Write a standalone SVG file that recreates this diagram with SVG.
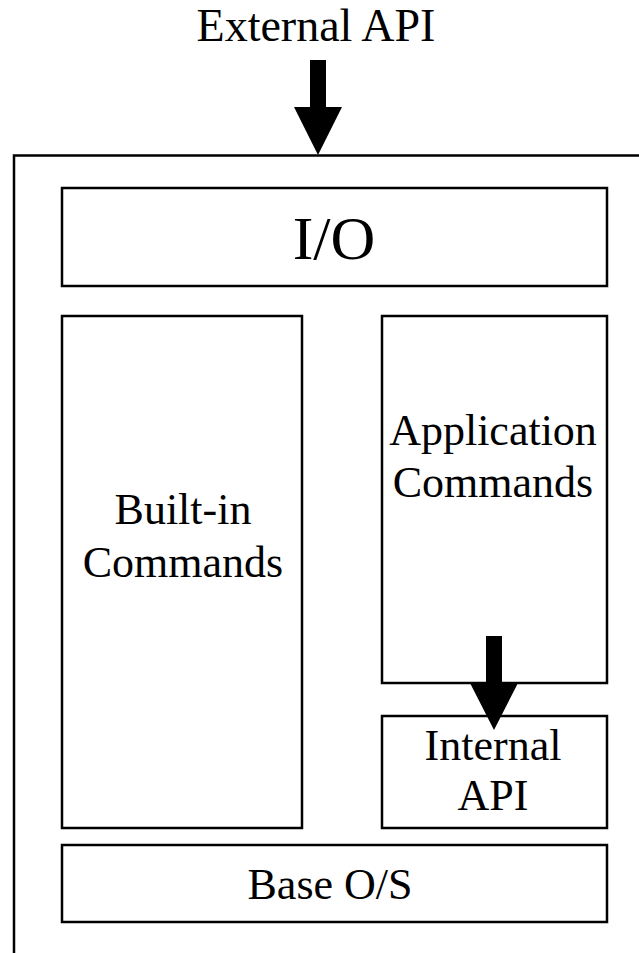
<svg xmlns="http://www.w3.org/2000/svg" width="639" height="953" viewBox="0 0 639 953">
<style>
.box{fill:#fff;stroke:#000;stroke-width:2.5}
.t{font-family:"Liberation Serif","Times New Roman",serif;fill:#000;text-anchor:middle;font-size:44px}
.arrow{fill:#000;stroke:none}
</style>
<rect width="639" height="953" fill="#fff"/>
<g id="frame">
<path d="M14 953 V155.5 H639" fill="none" stroke="#000" stroke-width="2.5"/>
</g>
<g id="io"><rect class="box" x="62" y="188" width="545" height="98"/><text class="t" x="334" y="259" style="font-size:62px">I/O</text></g>
<g id="builtin"><rect class="box" x="62" y="316" width="240" height="512"/><text class="t" x="183" y="524">Built-in</text><text class="t" x="183" y="577">Commands</text></g>
<g id="appcmds"><rect class="box" x="382" y="316" width="225" height="367"/><text class="t" x="493" y="445">Application</text><text class="t" x="493" y="497">Commands</text></g>
<g id="internalapi"><rect class="box" x="382" y="716" width="225" height="112"/><text class="t" x="493" y="760">Internal</text><text class="t" x="493" y="810">API</text></g>
<g id="baseos"><rect class="box" x="62" y="845" width="545" height="77"/><text class="t" x="330" y="899">Base O/S</text></g>
<g id="external"><text class="t" x="316" y="41" style="font-size:46px">External API</text></g>
<g id="connectors">
<path class="arrow" d="M310 60 H326 V107 H342 L318 155 L294 107 H310 Z"/>
<path class="arrow" d="M486 636 H502 V683 H518 L494 730 L470 683 H486 Z"/>
</g>
</svg>
